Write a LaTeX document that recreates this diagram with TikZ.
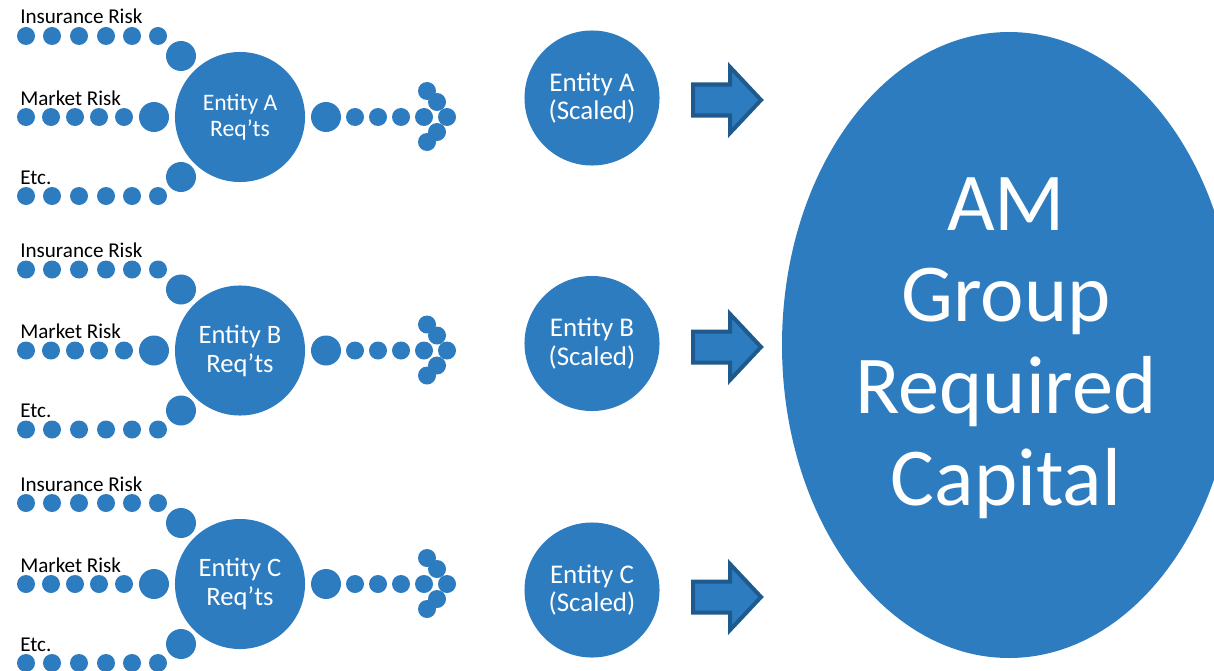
\documentclass[tikz,border=0pt]{standalone}
\usepackage{fontspec}
\setmainfont{Carlito}
\usepackage{tikz}
\usetikzlibrary{positioning}
\definecolor{amblue}{HTML}{2E7CC0}
\definecolor{amedge}{HTML}{1F5A8E}

\begin{document}
\begin{tikzpicture}[x=0.025cm, y=-0.025cm,
    smalldot/.style={circle, fill=amblue, inner sep=0pt, minimum size=0.45cm},
    bigdot/.style={circle, fill=amblue, inner sep=0pt, minimum size=0.75cm},
    reqcircle/.style={circle, fill=amblue, inner sep=0pt, minimum size=3.25cm, text=white, align=center},
    scaledcircle/.style={circle, fill=amblue, inner sep=0pt, minimum size=3.375cm, text=white, align=center,
        font=\fontsize{19.2}{20}\selectfont},
    risklabel/.style={anchor=base west, inner sep=0pt, font=\fontsize{15}{18}\selectfont},
    blockarrow/.style={fill=amblue, draw=amedge, line width=2.85pt, line join=miter}]
    \useasboundingbox (0,0) rectangle (1214,670);
    \clip (0,0) rectangle (1214,670);

    % Group capital (runs past the right edge)
    \fill[amblue] (1009,345) ellipse [x radius=227, y radius=313];
    \node[text=white, align=center, inner sep=0pt, font=\fontsize{58.5}{65.2}\selectfont] (total) at (1006,348)
        {AM\\Group\\Required\\Capital};

    % One block per entity
    \foreach \g/\yy/\fs/\bs/\sy/\ay in {A/0/16.8/18.5/98/100, B/233.5/18.9/20.6/343.5/347, C/467/18.9/20.6/590/597} {
        \begin{scope}[shift={(0,\yy)}]
            % Inputs
            \node[risklabel] (ins\g) at (20,24) {Insurance Risk};
            \node[risklabel] (mkt\g) at (20,105) {Market Risk};
            \node[risklabel] (etc\g) at (20,184) {Etc.};
            \foreach \x in {26,52,79,106,132,158} {
                \node[smalldot] (ins\g\x) at (\x,36) {};
                \node[smalldot] (etc\g\x) at (\x,196) {};
            }
            \foreach \x in {26,51,75,99,124}
                \node[smalldot] (mkt\g\x) at (\x,117) {};
            \node[bigdot] (insend\g) at (181,56) {};
            \node[bigdot] (mktend\g) at (154,117) {};
            \node[bigdot] (etcend\g) at (181,177) {};

            % Entity requirement
            \node[reqcircle, font=\fontsize{\fs}{\bs}\selectfont] (req\g) at (240,117) {Entity \g\\Req’ts};

            % Dotted arrow out
            \node[bigdot] (out\g) at (326,117) {};
            \foreach \x in {355,378,401,424}
                \node[smalldot] (out\g\x) at (\x,117) {};
            \node[smalldot] (tip\g) at (447,117) {};
            \node[smalldot] (upa\g) at (437,102) {};
            \node[smalldot] (upb\g) at (427,91) {};
            \node[smalldot] (dna\g) at (437,132) {};
            \node[smalldot] (dnb\g) at (427,142) {};
        \end{scope}

        % Scaled entity and block arrow
        \node[scaledcircle] (scaled\g) at (592,\sy) {Entity \g\\(Scaled)};
        \coordinate (arr\g) at (691,\ay);
        \draw[blockarrow] (693,\ay-15.5) -- (730,\ay-15.5) -- (730,\ay-33) -- (761,\ay)
            -- (730,\ay+33) -- (730,\ay+15.5) -- (693,\ay+15.5) -- cycle;
    }
\end{tikzpicture}
\end{document}
